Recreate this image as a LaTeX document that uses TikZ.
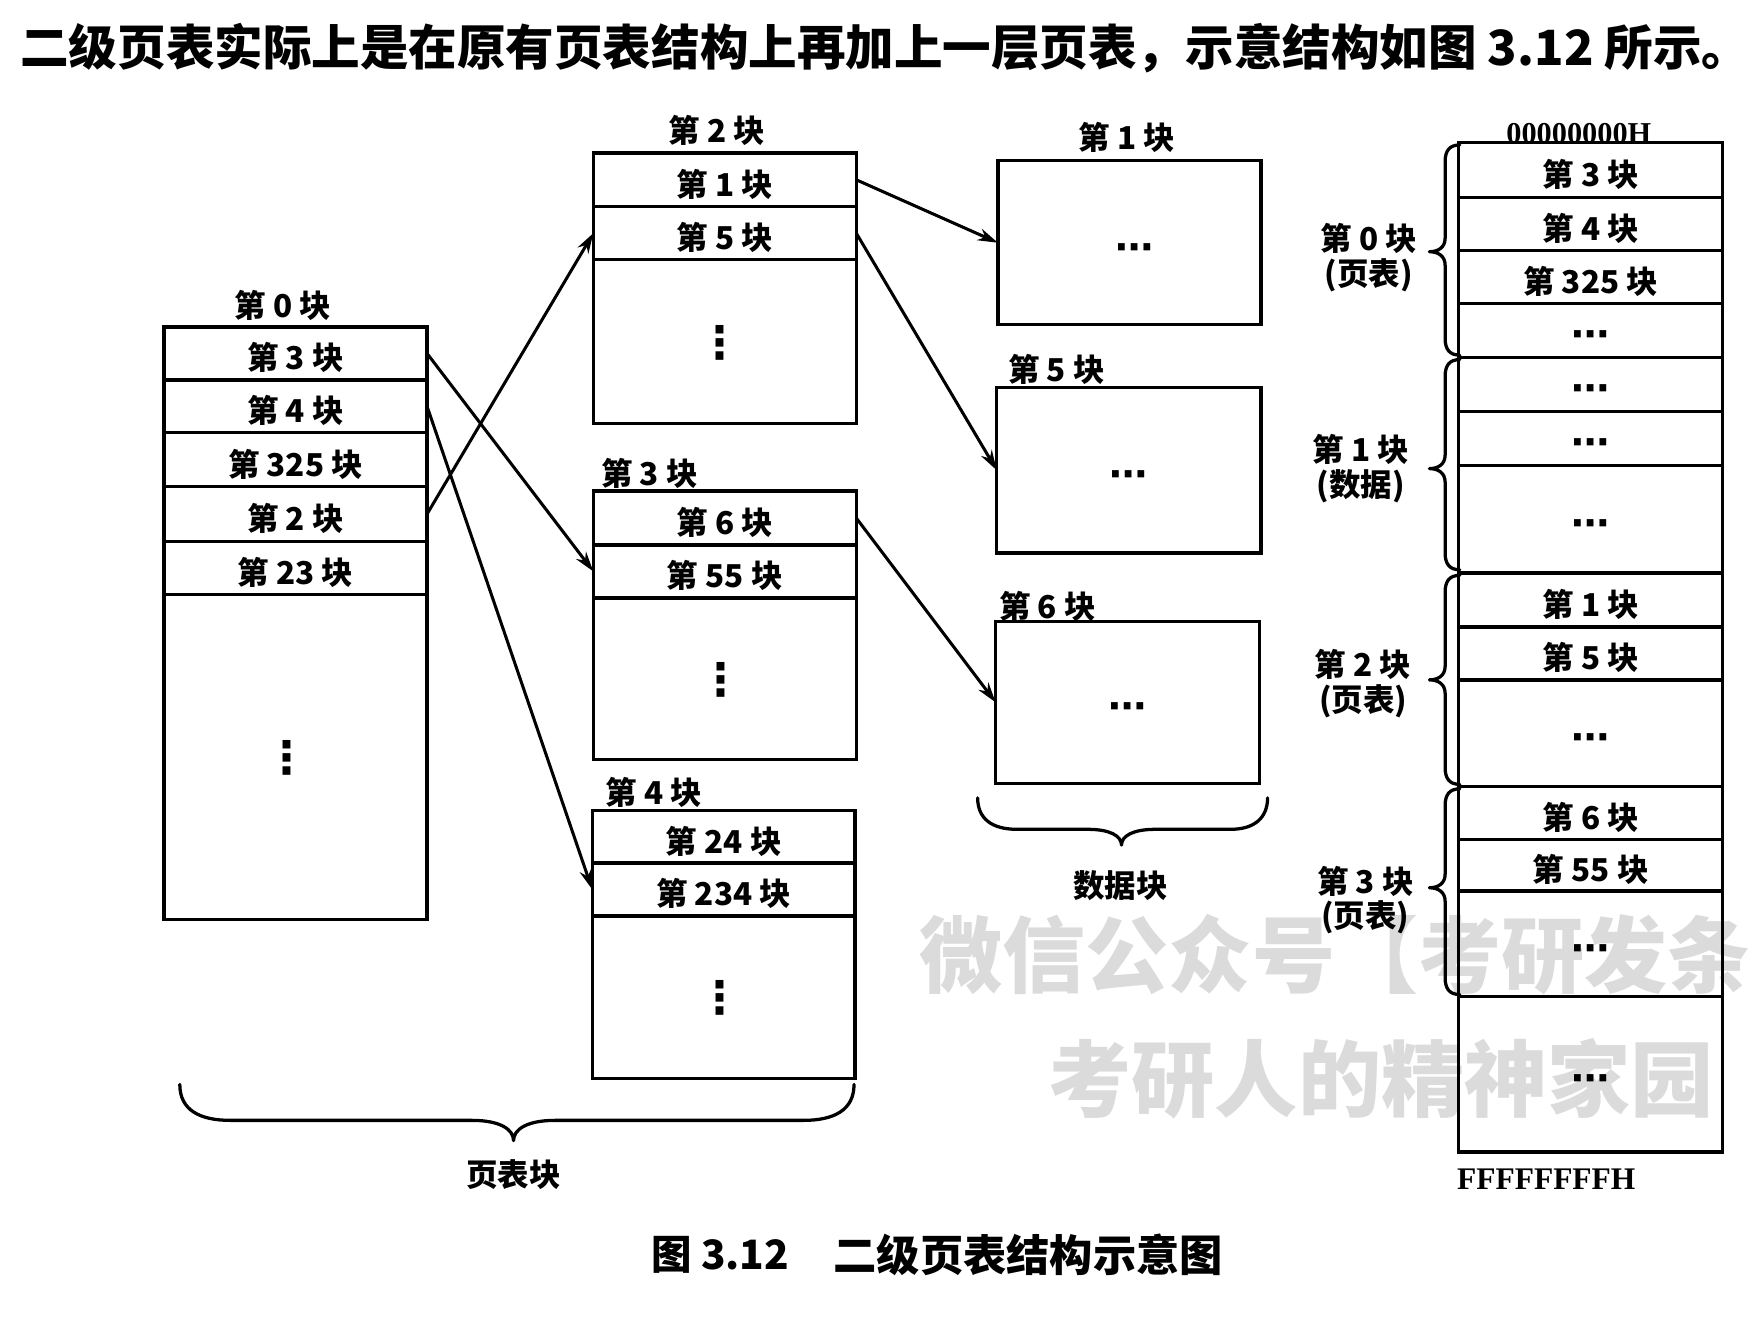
\documentclass[tikz,border=0pt]{standalone}
\usepackage{fontspec}
\setmainfont{Noto Sans CJK SC}
\newfontfamily\enserif{Liberation Serif}
\newfontfamily\djv{DejaVu Sans}
\usetikzlibrary{arrows.meta}
\newcommand\fsz[1]{\fontsize{#1}{#1}\selectfont}
\newcommand\vd{{\djv\bfseries\fsz{40}⋮}}
\newcommand\hd{\smash{\raisebox{-1pt}{\djv\bfseries\fsz{34}⋯}}}
\newcommand\mkcell[6]{%
  \pgfmathsetmacro\cw{#4-#2}\pgfmathsetmacro\ch{#5-#3}%
  \pgfmathsetmacro\cx{(#2+#4)/2}\pgfmathsetmacro\cy{(#3+#5)/2}%
  \node[cellst, minimum width=\cw pt, minimum height=\ch pt] (#1) at (\cx,\cy) {#6};}
\newcommand\vbrace[4]{%
  \draw[bracest] (1299,#2) .. controls (1290,#2) and (1286,{#2+5}) .. (1286,{#2+15})
    -- (1286,{#3-12}) .. controls (1286,{#3-4}) and (1280,#3) .. (1272,#3)
    .. controls (1280,#3) and (1286,{#3+4}) .. (1286,{#3+12})
    -- (1286,{#4-15}) .. controls (1286,{#4-5}) and (1290,#4) .. (1299,#4);}
\begin{document}
\begin{tikzpicture}[x=1pt,y=-1pt,
  cellst/.style={draw, line width=3pt, inner sep=0pt, outer sep=0pt,
    font=\fsz{28}\bfseries, text height=32.6pt, text depth=3.4pt},
  lbl/.style={inner sep=0pt, font=\fsz{28}\bfseries},
  rlbl/.style={inner sep=0pt, align=center, font=\fontsize{28}{31}\selectfont\bfseries},
  conn/.style={line width=2.7pt, -{Stealth[length=18pt,width=11pt]}},
  bracest/.style={line width=2.9pt, line cap=round, line join=round},
  wm/.style={inner sep=0pt, text=black!14, font=\fsz{74}\bfseries}]
\useasboundingbox (0,0) rectangle (1568,1176);
\clip (0,0) rectangle (1568,1176);
\fill[white] (0,0) rectangle (1568,1176);
% watermark
\node[wm, anchor=west] (wm1) at (818,850) {微信公众号【考研发条};
\node[wm, anchor=west] (wm2) at (933,960) {考研人的精神家园};
% header
\node[anchor=west, inner sep=0pt, font=\fsz{43.2}\bfseries] (hdr) at (18,43)
  {二级页表实际上是在原有页表结构上再加上一层页表，示意结构如图 3.12 所示。};
% block 0
\node[lbl] (l0) at (252,272) {第 0 块};
\mkcell{b0a}{146}{291}{380}{338}{第 3 块}
\mkcell{b0b}{146}{338}{380}{385}{第 4 块}
\mkcell{b0c}{146}{385}{380}{433}{第 325 块}
\mkcell{b0d}{146}{433}{380}{482}{第 2 块}
\mkcell{b0e}{146}{482}{380}{529}{第 23 块}
\mkcell{b0f}{146}{529}{380}{818}{\hspace*{-16pt}\vd}
% block 2
\node[lbl] (l2) at (638,116) {第 2 块};
\mkcell{b2a}{528}{136}{762}{184}{第 1 块}
\mkcell{b2b}{528}{184}{762}{231}{第 5 块}
\mkcell{b2c}{528}{231}{762}{377}{\hspace*{-8pt}\vd}
% block 3
\node[lbl] (l3) at (578,421) {第 3 块};
\mkcell{b3a}{528}{437}{762}{485}{第 6 块}
\mkcell{b3b}{528}{485}{762}{532}{第 55 块}
\mkcell{b3c}{528}{532}{762}{676}{\hspace*{-6pt}\vd}
% block 4
\node[lbl] (l4) at (582,705) {第 4 块};
\mkcell{b4a}{527}{721}{761}{768}{第 24 块}
\mkcell{b4b}{527}{768}{761}{815}{第 234 块}
\mkcell{b4c}{527}{815}{761}{960}{\hspace*{-6pt}\vd}
% data blocks
\node[lbl] (ld1) at (1003,122) {第 1 块};
\mkcell{d1}{888}{143}{1122}{289}{\hspace*{10pt}\hd}
\node[lbl] (ld5) at (940,329) {第 5 块};
\mkcell{d5}{887}{345}{1122}{492}{\hd}
\node[lbl] (ld6) at (932,540) {第 6 块};
\mkcell{d6}{886}{553}{1121}{697}{\hd}
% memory column
\node[inner sep=0pt, anchor=base, font=\enserif\fsz{27}\bfseries] (top) at (1405,128) {00000000H};
\mkcell{m1}{1298}{127}{1533}{176}{第 3 块}
\mkcell{m2}{1298}{176}{1533}{223}{第 4 块}
\mkcell{m3}{1298}{223}{1533}{270}{第 325 块}
\mkcell{m4}{1298}{270}{1533}{318}{\hd}
\mkcell{m5}{1298}{318}{1533}{366}{\hd}
\mkcell{m6}{1298}{366}{1533}{414}{\hd}
\mkcell{m7}{1298}{414}{1533}{510}{\hd}
\mkcell{m8}{1298}{510}{1533}{558}{第 1 块}
\mkcell{m9}{1298}{558}{1533}{605}{第 5 块}
\mkcell{m10}{1298}{605}{1533}{700}{\hd}
\mkcell{m11}{1298}{700}{1533}{747}{第 6 块}
\mkcell{m12}{1298}{747}{1533}{793}{第 55 块}
\mkcell{m13}{1298}{793}{1533}{887}{\hd}
\mkcell{m14}{1298}{887}{1533}{1025}{\hd}
\node[inner sep=0pt, font=\enserif\fsz{28}\bfseries] (bot) at (1376,1049) {FFFFFFFFH};
\vbrace{g0}{129}{224}{316}
\vbrace{g1}{320}{417}{507}
\vbrace{g2}{512}{605}{698}
\vbrace{g3}{702}{790}{885}
\node[rlbl] (r0) at (1218,229) {第 0 块\\(页表)};
\node[rlbl] (r1) at (1211,417) {第 1 块\\(数据)};
\node[rlbl] (r2) at (1213,608) {第 2 块\\(页表)};
\node[rlbl] (r3) at (1215,801) {第 3 块\\(页表)};
% arrows
\draw[conn] (b0a.east) -- (b3b.west);
\draw[conn] (b0b.east) -- (b4b.west);
\draw[conn] (b0d.east) -- (b2b.west);
\draw[conn] (b2a.east) -- (d1.west);
\draw[conn] (b2b.east) -- (d5.west);
\draw[conn] (b3a.east) -- (d6.west);
% bottom braces
\draw[bracest] (160,965) .. controls (160,988) and (178,997) .. (205,997) -- (420,997)
  .. controls (445,997) and (457,1005) .. (457,1015)
  .. controls (457,1005) and (469,997) .. (494,997) -- (715,997)
  .. controls (742,997) and (760,988) .. (760,965);
\node[lbl] (ptb) at (457,1045) {页表块};
\draw[bracest] (870,710) .. controls (870,728) and (882,738) .. (905,738) -- (968,738)
  .. controls (988,738) and (998,744) .. (998,752)
  .. controls (998,744) and (1008,738) .. (1028,738) -- (1095,738)
  .. controls (1116,738) and (1128,728) .. (1128,710);
\node[lbl] (dtb) at (997,788) {数据块};
% caption
\node[inner sep=0pt, font=\fsz{36}\bfseries] (cap1) at (641,1117) {图 3.12};
\node[inner sep=0pt, font=\fsz{38.5}\bfseries] (cap2) at (915,1117) {二级页表结构示意图};
\end{tikzpicture}
\end{document}
